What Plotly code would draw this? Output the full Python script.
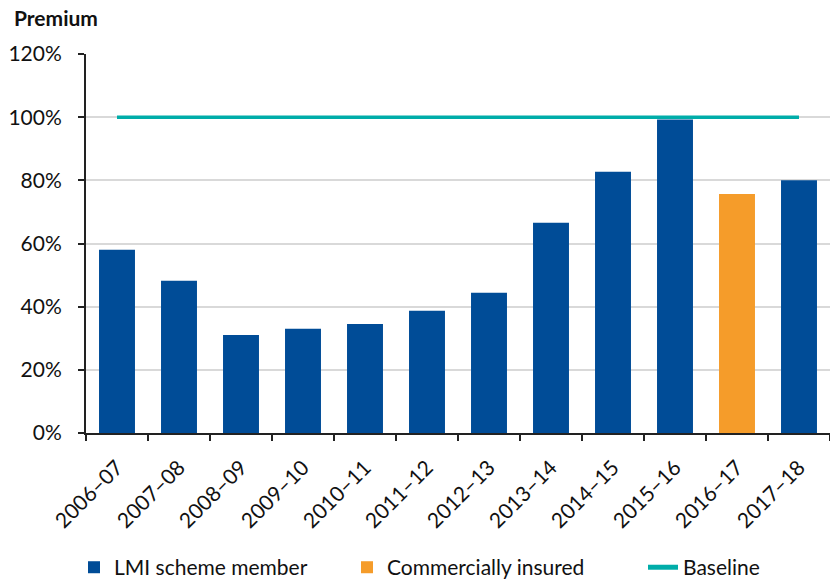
import plotly.graph_objects as go

years = ["2006–07", "2007–08", "2008–09", "2009–10", "2010–11", "2011–12",
         "2012–13", "2013–14", "2014–15", "2015–16", "2016–17", "2017–18"]
lmi_member = [58.0, 48.2, 31.0, 33.0, 34.5, 38.7, 44.4, 66.6, 82.7, 99.3, None, 80.0]
commercially_insured = [None, None, None, None, None, None, None, None, None, None, 75.7, None]
baseline = [100] * len(years)
y_ticks = [0, 20, 40, 60, 80, 100, 120]
y_tick_labels = [f"{v}%" for v in y_ticks]

FONT = "Lato, Calibri, Carlito, sans-serif"
BLUE = "#004C97"
ORANGE = "#F59C2A"
TEAL = "#00ADA9"
INK = "#111111"

fig = go.Figure()
fig.add_trace(go.Bar(x=years, y=lmi_member, name="LMI scheme member",
                     marker=dict(color=BLUE, line=dict(width=0)), legend="legend"))
fig.add_trace(go.Bar(x=years, y=commercially_insured, name="Commercially insured",
                     marker=dict(color=ORANGE, line=dict(width=0)), legend="legend2"))
fig.add_trace(go.Scatter(x=years, y=baseline, name="Baseline", mode="lines",
                         line=dict(color=TEAL, width=3.5), legend="legend3"))


def legend_box(x_px):
    # one single-entry legend per series, laid out along the bottom edge
    return dict(orientation="h", xref="container", yref="container",
                x=x_px / 830, xanchor="left", y=0.06, yanchor="top",
                font=dict(size=21), bgcolor="rgba(0,0,0,0)", itemsizing="constant")


fig.update_layout(
    width=830, height=582,
    margin=dict(l=86, r=0, t=54, b=149),
    paper_bgcolor="white", plot_bgcolor="white",
    barmode="overlay", bargap=0.42,
    font=dict(family=FONT, size=21, color=INK),
    showlegend=True,
    legend=legend_box(74),
    legend2=legend_box(347),
    legend3=legend_box(643),
    annotations=[dict(text="<b>Premium</b>", xref="paper", yref="paper",
                      x=(12 - 86) / 744, y=1.0, yshift=22, xanchor="left",
                      yanchor="bottom", showarrow=False,
                      font=dict(family=FONT, size=21, color=INK))],
)
fig.update_xaxes(type="category", tickangle=-45, tickson="boundaries",
                 ticks="outside", ticklen=6, tickwidth=1.5, tickcolor="#222222",
                 ticklabelstandoff=12,
                 showline=True, linecolor="#222222", linewidth=2,
                 showgrid=False, automargin=False, tickfont=dict(size=21))
fig.update_yaxes(range=[0, 120], tickvals=y_ticks, ticktext=y_tick_labels,
                 ticks="outside", ticklen=6, tickwidth=1.5, tickcolor="#222222",
                 ticklabelstandoff=12,
                 showline=True, linecolor="#222222", linewidth=2,
                 showgrid=True, gridcolor="#D9D9D9", gridwidth=1.5,
                 zeroline=False, automargin=False, tickfont=dict(size=21))

fig.write_html("out.html")
